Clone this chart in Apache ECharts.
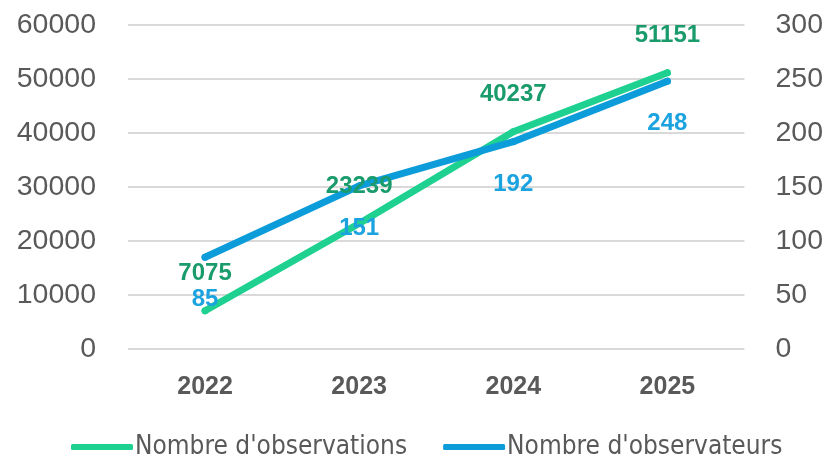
<!DOCTYPE html>
<html><head><meta charset="utf-8">
<script src="https://cdn.jsdelivr.net/npm/echarts@6/dist/echarts.min.js"></script>
<style>html,body{margin:0;padding:0;background:#fff}#c{width:826px;height:461px}</style>
</head><body><div id="c"></div>
<script>
var categories = ['2022', '2023', '2024', '2025'];
var observations = [7075, 23239, 40237, 51151];
var observateurs = [85, 151, 192, 248];
var seriesNames = ["Nombre d'observations", "Nombre d'observateurs"];

var chart = echarts.init(document.getElementById('c'));
chart.setOption({
  animation: false,
  grid: { left: 128, right: 81, top: 25, bottom: 112 },
  legend: {
    bottom: -4, left: 66,
    itemWidth: 62, itemHeight: 6, itemGap: 36,
    icon: 'roundRect',
    textStyle: { fontFamily: 'DejaVu Sans Condensed', fontSize: 26, color: '#595959', padding: [0,0,0,-3] },
    data: seriesNames
  },
  xAxis: {
    type: 'category', data: categories, boundaryGap: true,
    axisLine: { show: false }, axisTick: { show: false },
    axisLabel: { fontFamily: 'Liberation Sans', fontWeight: 'bold', fontSize: 25, color: '#595959', margin: 26 }
  },
  yAxis: [
    { type: 'value', min: 0, max: 60000, interval: 10000,
      axisLine: { show: false }, axisTick: { show: false },
      splitLine: { lineStyle: { color: '#d9d9d9', width: 2 } },
      axisLabel: { fontFamily: 'Liberation Sans', fontSize: 28.5, color: '#595959', margin: 32, formatter: function (v) { return String(v); } } },
    { type: 'value', min: 0, max: 300, interval: 50,
      axisLine: { show: false }, axisTick: { show: false }, splitLine: { show: false },
      axisLabel: { fontFamily: 'Liberation Sans', fontSize: 28.5, color: '#595959', margin: 31, formatter: function (v) { return String(v); } } }
  ],
  series: [
    { name: seriesNames[0], type: 'line', yAxisIndex: 0, data: observations,
      symbol: 'circle', symbolSize: 7, showSymbol: true,
      lineStyle: { color: '#1fd191', width: 7, cap: 'round' },
      itemStyle: { color: '#1fd191' },
      label: { show: true, position: 'top', distance: 22, fontFamily: 'Liberation Sans', fontWeight: 'bold', fontSize: 24, color: '#1a9b6c' } },
    { name: seriesNames[1], type: 'line', yAxisIndex: 1, data: observateurs,
      symbol: 'circle', symbolSize: 7, showSymbol: true,
      lineStyle: { color: '#0d9cda', width: 7, cap: 'round' },
      itemStyle: { color: '#0d9cda' },
      label: { show: true, position: 'bottom', distance: 27, fontFamily: 'Liberation Sans', fontWeight: 'bold', fontSize: 24, color: '#1ba3e0' } }
  ]
});
</script></body></html>
